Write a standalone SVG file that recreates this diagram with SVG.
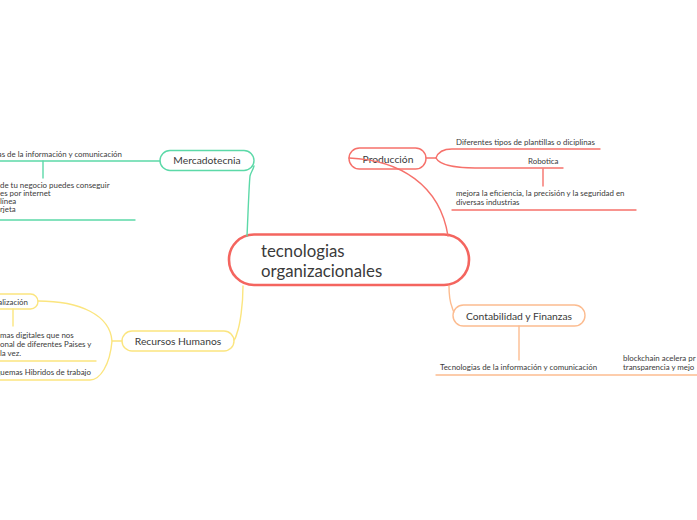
<svg xmlns="http://www.w3.org/2000/svg" width="697" height="520" viewBox="0 0 697 520">
<style>
.t{font-family:Lato,"Open Sans","Liberation Sans",sans-serif;fill:#3a3a3a}
.s{font-size:7.9px}
.n{font-size:10.3px;text-anchor:middle}
.c{fill:none;stroke-width:1.4;stroke-linecap:round}
.g{stroke:#5cd9a8}.y{stroke:#fbe57f}.r{stroke:#f6716b}.o{stroke:#fcbc90}
.box{fill:#fff;stroke-width:1.4}
</style>
<rect width="697" height="520" fill="#fff"/>
<g id="center">
<rect x="229" y="234.5" width="240" height="50.5" rx="25" fill="#fff" stroke="#f4655f" stroke-width="2.6"/>
<text class="t" x="261" y="257" font-size="16.8">tecnologias</text>
<text class="t" x="261" y="276.5" font-size="16.8">organizacionales</text>
</g>
<g id="mercadotecnia">
<rect class="box g" x="160" y="150.5" width="94" height="20" rx="10"/>
<text class="t n" x="207" y="164">Mercadotecnia</text>
</g>
<g id="mercadotecnia-tic">
<text class="t s" x="122" y="157" text-anchor="end">Tecnologias de la información y comunicación</text>
</g>
<g id="mercadotecnia-negocio">
<text class="t s" x="0" y="188">de tu negocio puedes conseguir</text>
<text class="t s" x="0" y="196">es por internet</text>
<text class="t s" x="0" y="204">línea</text>
<text class="t s" x="0" y="212">rjeta</text>
</g>
<g id="recursos-humanos">
<rect class="box y" x="122" y="331" width="112" height="20" rx="10"/>
<text class="t n" x="178" y="344.5">Recursos Humanos</text>
</g>
<g id="globalizacion">
<rect class="box y" x="-40" y="294" width="78" height="15" rx="7.5"/>
<text class="t s" x="28" y="304.5" text-anchor="end" font-size="8.2">Globalización</text>
</g>
<g id="plataformas">
<text class="t s" x="0" y="338">mas digitales que nos</text>
<text class="t s" x="0" y="347">onal de diferentes Paises y</text>
<text class="t s" x="0" y="356">la vez.</text>
</g>
<g id="hibridos">
<text class="t s" x="91" y="375" text-anchor="end">Esquemas Hibridos de trabajo</text>
</g>
<g id="produccion">
<rect class="box r" x="349" y="148" width="77" height="21" rx="10.5"/>
<text class="t n" x="388" y="162.5">Producción</text>
</g>
<g id="plantillas">
<text class="t s" x="456" y="145">Diferentes tipos de plantillas o diciplinas</text>
</g>
<g id="robotica">
<text class="t s" x="528" y="164">Robotica</text>
</g>
<g id="eficiencia">
<text class="t s" x="456" y="195.5">mejora la eficiencia, la precisión y la seguridad en</text>
<text class="t s" x="456" y="205">diversas industrias</text>
</g>
<g id="contabilidad">
<rect class="box o" x="453" y="305" width="132" height="21" rx="10.5"/>
<text class="t n" x="519" y="319.5">Contabilidad y Finanzas</text>
</g>
<g id="contabilidad-tic">
<text class="t s" x="440" y="370">Tecnologias de la información y comunicación</text>
</g>
<g id="blockchain">
<text class="t s" x="623" y="361">blockchain acelera pr</text>
<text class="t s" x="623" y="370">transparencia  y mejo</text>
</g>
<g id="connectors">
<path class="c g" d="M247,236 C248,215 249,185 250,176 C251,172 253,170 254,166"/>
<path class="c y" d="M243,286 C243,305 240,325 237,333 C236,337 235,339 234,340"/>
<path class="c r" stroke-width="1.6" d="M349,158 C400,160 440,185 448,236"/>
<path class="c o" d="M449,286 C449,295 450,302 452,307 C453,310 453,311 454,312"/>
<path class="c g" d="M160,161 L0,161"/>
<path class="c g" d="M43,161 L43,178"/>
<path class="c g" d="M0,220 L135,220"/>
<path class="c y" d="M122,341 L112,341"/>
<path class="c y" d="M38,301 C80,301 110,315 112,341 C110,365 100,380 90,380 L0,380"/>
<path class="c y" d="M13,309 L13,326"/>
<path class="c y" d="M0,361 L96,361"/>
<path class="c r" d="M426,158 L436,158 C438,152 444,149 452,149 L600,149"/>
<path class="c r" d="M436,158 C440,166 460,168 475,168 L563,168"/>
<path class="c r" d="M543,169 L543,186"/>
<path class="c r" d="M452,210 L636,210"/>
<path class="c o" d="M519,326 L519,360"/>
<path class="c o" d="M436,375 L697,375"/>
</g>
</svg>
